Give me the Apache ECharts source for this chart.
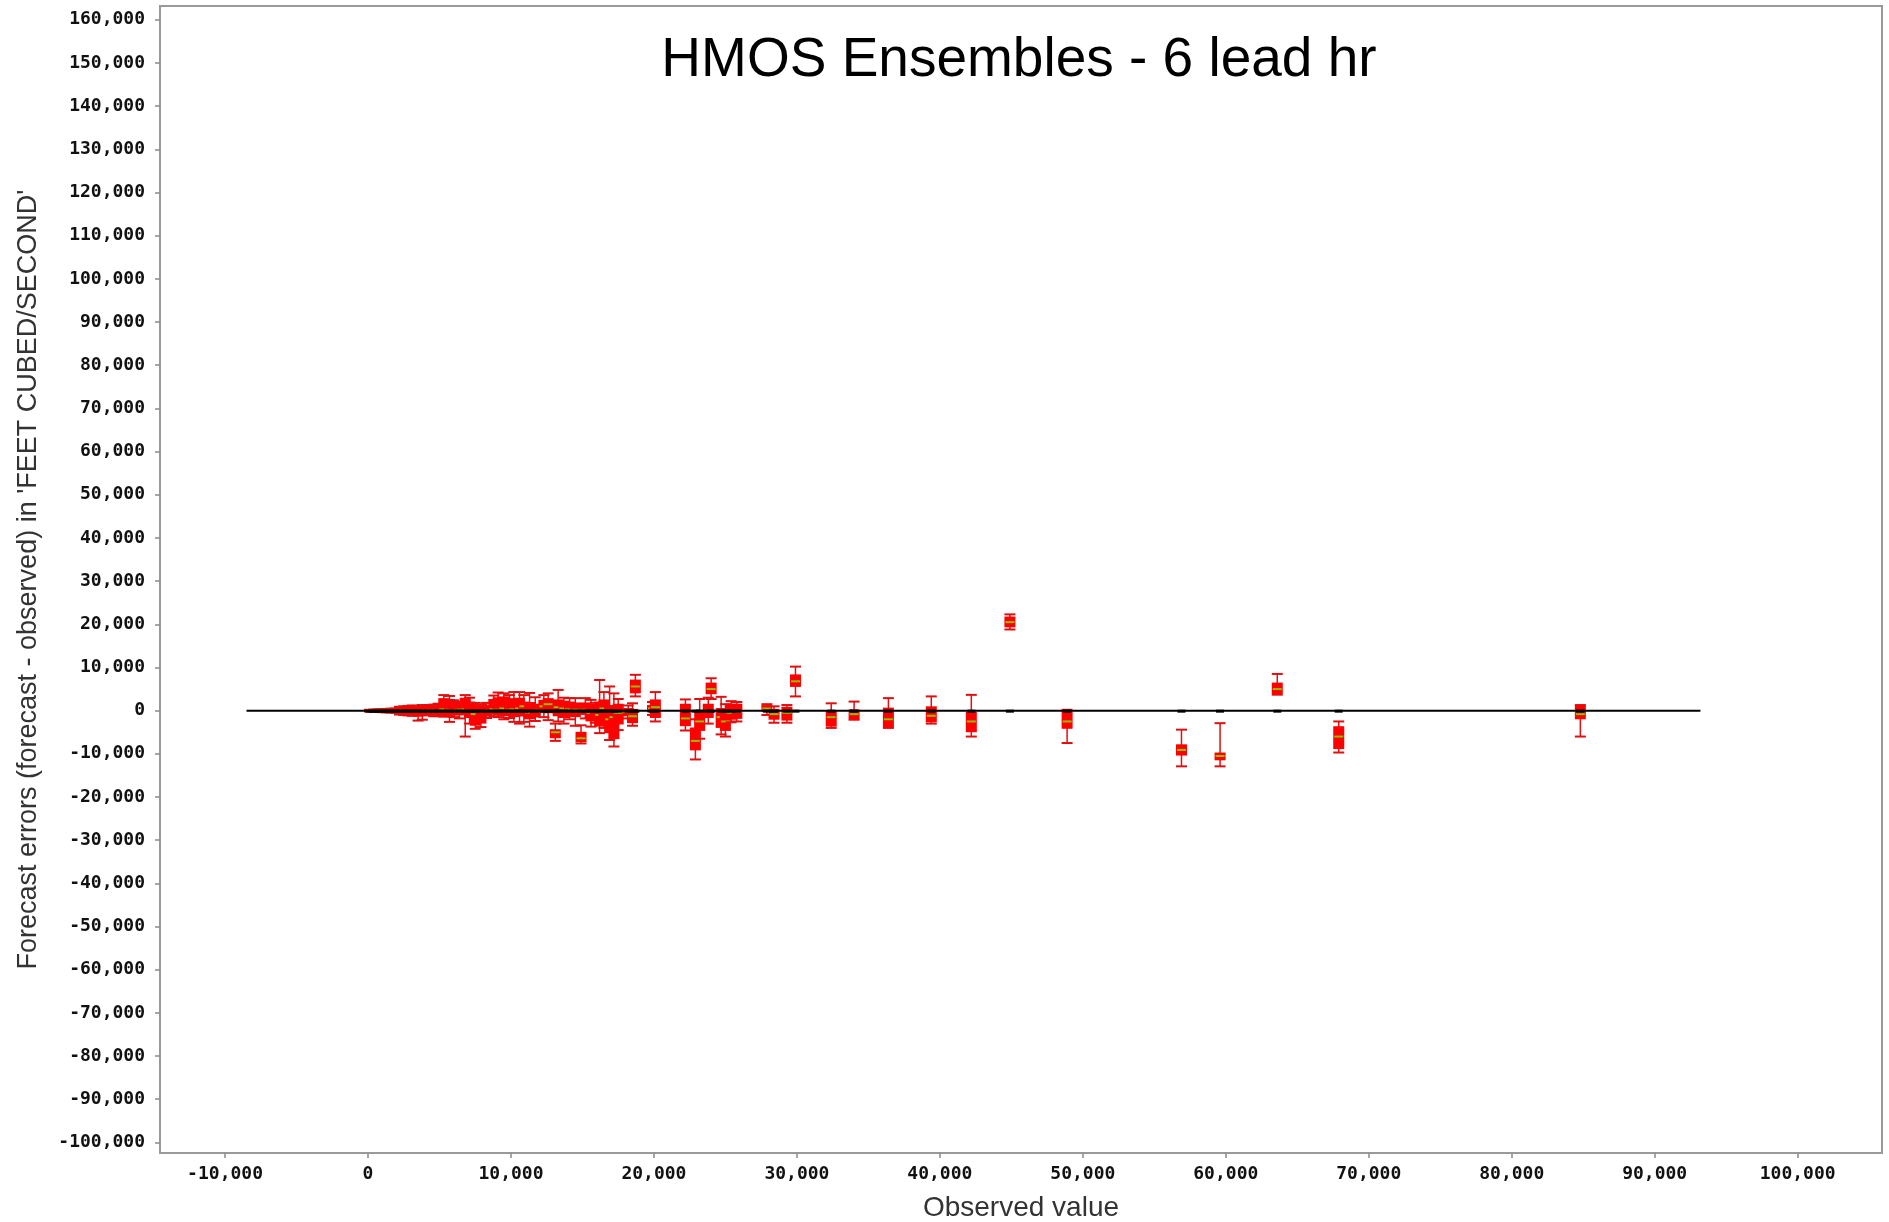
<!DOCTYPE html>
<html>
<head>
<meta charset="utf-8">
<script src="https://cdn.jsdelivr.net/npm/echarts@6/dist/echarts.min.js"></script>
<style>
html,body{margin:0;padding:0;background:#fff;}
#main{width:1889px;height:1222px;}
</style>
</head>
<body>
<div id="main"></div>
<script>
// ---- Data ----
const titleText = 'HMOS Ensembles - 6 lead hr';
const xAxisTitle = 'Observed value';
const yAxisTitle = "Forecast errors (forecast - observed) in 'FEET CUBED/SECOND'";

const xTicks = [-10000, 0, 10000, 20000, 30000, 40000, 50000, 60000, 70000, 80000, 90000, 100000];
const yTicks = [-100000, -90000, -80000, -70000, -60000, -50000, -40000, -30000, -20000, -10000, 0,
  10000, 20000, 30000, 40000, 50000, 60000, 70000, 80000, 90000, 100000, 110000, 120000, 130000,
  140000, 150000, 160000];
const xRange = [-14550, 105900];
const yRange = [-102450, 163200];

// zero reference line extent
const zeroLineX = [-8500, 93200];

// observed values (x) and forecast error box-whisker statistics (y)
const obsX = [100, 400, 700, 1000, 1300, 1600, 1900, 2200, 2500, 2800, 3100, 3500, 3800, 4200, 4600, 4900,
  5300, 5700, 6000, 6400, 6800, 7100, 7500, 7900, 8300, 8800, 9100, 9500, 9900, 10200,
  10600, 10900, 11300, 11700, 12300, 12600, 13100, 13300, 13700, 14100, 14500, 14900, 15200,
  15600, 15900, 16200, 16500, 16900, 17200, 17500, 18200, 18500, 18700, 19900, 20100,
  22200, 22900, 23200, 23800, 24000, 24700, 25000, 25400, 25800, 27900, 28400, 29300, 29900,
  32400, 34000, 36400, 39400, 42200, 44900, 48900, 56900, 59600, 63600, 67900, 84800];
const whiskerLow = [-200, -250, -300, -350, -400, -450, -500, -900, -1000, -1100, -1200, -2300, -2100, -1100, -1300, -1200,
  -1400, -2600, -1500, -1800, -6000, -3000, -4200, -3800, -1700, -1300, -1500, -2000, -1700, -2600,
  -3000, -2600, -3700, -2400, -1500, -2200, -7000, -2500, -3000, -2000, -3500, -7600, -1800,
  -3700, -2800, -5200, -4000, -6800, -8300, -4500, -1800, -3500, 3300, -1000, -2500,
  -4600, -11300, -6500, -3000, 2700, -5500, -6000, -2700, -2500, -1000, -2800, -2800, 3300,
  -4000, -2100, -4000, -3000, -6000, 18800, -7500, -12900, -12900, 3700, -9700, -6000];
const boxLow = [-150, -200, -250, -250, -300, -350, -350, -700, -800, -900, -1000, -1400, -1200, -900, -1000, -900,
  -1000, -1500, -1100, -1100, -1000, -1700, -3500, -3000, -1300, -900, -1100, -1300, -1200, -1500,
  -1300, -1300, -2000, -1600, -500, -600, -6400, -1300, -1700, -1100, -1500, -7300, -1000,
  -2500, -1900, -3700, -2700, -5200, -6600, -3200, -1300, -2900, 4000, -400, -1700,
  -3600, -9200, -4700, -1700, 3800, -4000, -4700, -2100, -1900, -300, -2100, -2300, 5500,
  -3700, -2000, -3900, -2700, -5000, 19300, -4200, -10400, -11500, 3800, -8900, -2000];
const medians = [0, 0, 0, 0, 50, 0, 0, 0, 100, 0, 0, -100, 0, 0, 100, 0,
  300, 200, 100, 200, 300, 100, -800, -200, 0, 300, 200, 500, 200, 300,
  500, 1000, -400, 0, 1000, 1500, -5000, 800, 500, 300, 200, -6400, 200,
  -500, 0, -1000, 500, -2000, -1500, -500, -300, -1300, 5600, 500, 800,
  -1800, -7000, -2500, 0, 5000, -1500, -2500, -500, -200, 500, -800, -500, 6800,
  -1500, -800, -2000, -1200, -2500, 20500, -2500, -9100, -10500, 5000, -6000, -800];
const boxHigh = [150, 200, 200, 250, 300, 350, 350, 800, 900, 900, 1000, 900, 1000, 1100, 1100, 1300,
  2900, 2700, 1900, 1500, 3000, 2100, 1300, 1100, 1300, 2700, 3100, 3300, 2700, 2900,
  3000, 2100, 2000, 1600, 2500, 2900, -4300, 2600, 2300, 2100, 1900, -4900, 1900,
  1600, 1100, 2100, 2600, 1100, 1300, 1600, 600, 400, 7200, 1300, 2600,
  1600, -3900, 100, 1600, 6500, 600, 100, 1600, 1600, 1300, 400, 900, 8400,
  100, 300, 700, 1000, -300, 21800, -100, -7800, -9700, 6500, -3600, 1300];
const whiskerHigh = [200, 250, 300, 350, 400, 450, 500, 900, 1000, 1100, 1200, 1100, 1300, 1300, 1400, 1600,
  3600, 3400, 2400, 2000, 3600, 3000, 1800, 1500, 1800, 3500, 4200, 4000, 3600, 4300,
  4300, 3600, 4100, 3100, 3600, 4000, -3000, 4800, 3000, 2900, 2900, -3400, 2900,
  2500, 1800, 7100, 4300, 5600, 4000, 2700, 1200, 1700, 8300, 2000, 4300,
  2600, -2000, 2700, 3000, 7500, 3200, 1500, 2200, 2000, 1500, 1000, 1300, 10200,
  1700, 2100, 2900, 3300, 3660, 22300, 200, -4400, -2900, 8500, -2500, 1300];

// ---- Build chart ----
const boxData = obsX.map((x, i) => [x, whiskerLow[i], boxLow[i], medians[i], boxHigh[i], whiskerHigh[i]]);
const dashData = obsX.map(x => [x, 0]);

function fmt(v) {
  return Math.round(v).toString().replace(/\B(?=(\d{3})+(?!\d))/g, ',');
}

const tickFont = { fontFamily: 'DejaVu Sans Mono', fontWeight: 'bold', fontSize: 18, color: '#111' };

const chart = echarts.init(document.getElementById('main'), null, { renderer: 'canvas' });
chart.setOption({
  animation: false,
  backgroundColor: '#ffffff',
  title: {
    text: titleText,
    left: 1014,
    textAlign: 'center',
    top: 28,
    textStyle: { fontFamily: 'Liberation Sans', fontWeight: 'normal', fontSize: 55, color: '#000' }
  },
  grid: {
    left: 160, right: 7, top: 6, bottom: 69,
    containLabel: false,
    outerBoundsMode: 'none',
    show: true, borderColor: '#9a9a9a', borderWidth: 2, backgroundColor: '#fff'
  },
  xAxis: {
    type: 'value',
    min: xRange[0], max: xRange[1],
    name: xAxisTitle,
    nameLocation: 'middle',
    nameGap: 41,
    nameTextStyle: { fontFamily: 'Liberation Sans', fontSize: 28, color: '#333' },
    axisLine: { show: true, onZero: false, lineStyle: { color: '#9a9a9a', width: 2 } },
    axisTick: { show: true, customValues: xTicks, length: 5, lineStyle: { color: '#8a8a8a', width: 1.5 } },
    axisLabel: Object.assign({ show: true, customValues: xTicks, margin: 12, formatter: fmt }, tickFont),
    splitLine: { show: false }
  },
  yAxis: {
    type: 'value',
    min: yRange[0], max: yRange[1],
    name: yAxisTitle,
    nameLocation: 'middle',
    nameRotate: 90,
    nameGap: 118,
    nameTextStyle: { fontFamily: 'Liberation Sans', fontSize: 27, color: '#333' },
    axisLine: { show: true, onZero: false, lineStyle: { color: '#9a9a9a', width: 2 } },
    axisTick: { show: true, customValues: yTicks, length: 5, lineStyle: { color: '#8a8a8a', width: 1.5 } },
    axisLabel: Object.assign({ show: true, customValues: yTicks, margin: 15, formatter: fmt }, tickFont),
    splitLine: { show: false }
  },
  series: [
    {
      type: 'custom',
      name: 'ensemble',
      z: 3,
      data: boxData,
      encode: { x: 0, y: [1, 2, 3, 4, 5] },
      renderItem: function (params, api) {
        const x = api.value(0);
        const lo = api.coord([x, api.value(1)]);
        const q1 = api.coord([x, api.value(2)]);
        const md = api.coord([x, api.value(3)]);
        const q3 = api.coord([x, api.value(4)]);
        const hi = api.coord([x, api.value(5)]);
        const cx = lo[0];
        const bw = 11, cw = 11;
        const stroke = '#e01010';
        const boxH = Math.max(q1[1] - q3[1], 3);
        return {
          type: 'group',
          children: [
            { type: 'line', shape: { x1: cx, y1: lo[1], x2: cx, y2: hi[1] }, style: { stroke: stroke, lineWidth: 1.5 } },
            { type: 'line', shape: { x1: cx - cw / 2, y1: lo[1], x2: cx + cw / 2, y2: lo[1] }, style: { stroke: stroke, lineWidth: 2 } },
            { type: 'line', shape: { x1: cx - cw / 2, y1: hi[1], x2: cx + cw / 2, y2: hi[1] }, style: { stroke: stroke, lineWidth: 2 } },
            { type: 'rect', shape: { x: cx - bw / 2, y: (q1[1] + q3[1]) / 2 - boxH / 2, width: bw, height: boxH }, style: { fill: '#ff0000' } },
            { type: 'line', shape: { x1: cx - bw / 2 + 1, y1: md[1], x2: cx + bw / 2 - 1, y2: md[1] }, style: { stroke: '#8fbf00', lineWidth: 2 } }
          ]
        };
      }
    },
    {
      type: 'line',
      name: 'zero',
      z: 4,
      data: [[zeroLineX[0], 0], [zeroLineX[1], 0]],
      symbol: 'none',
      lineStyle: { color: '#000', width: 2 },
      silent: true
    },
    {
      type: 'custom',
      name: 'observed',
      z: 5,
      data: dashData,
      renderItem: function (params, api) {
        const p = api.coord([api.value(0), api.value(1)]);
        return { type: 'rect', shape: { x: p[0] - 4, y: p[1] - 1, width: 8, height: 3 }, style: { fill: '#000' } };
      }
    }
  ]
});
</script>
</body>
</html>
